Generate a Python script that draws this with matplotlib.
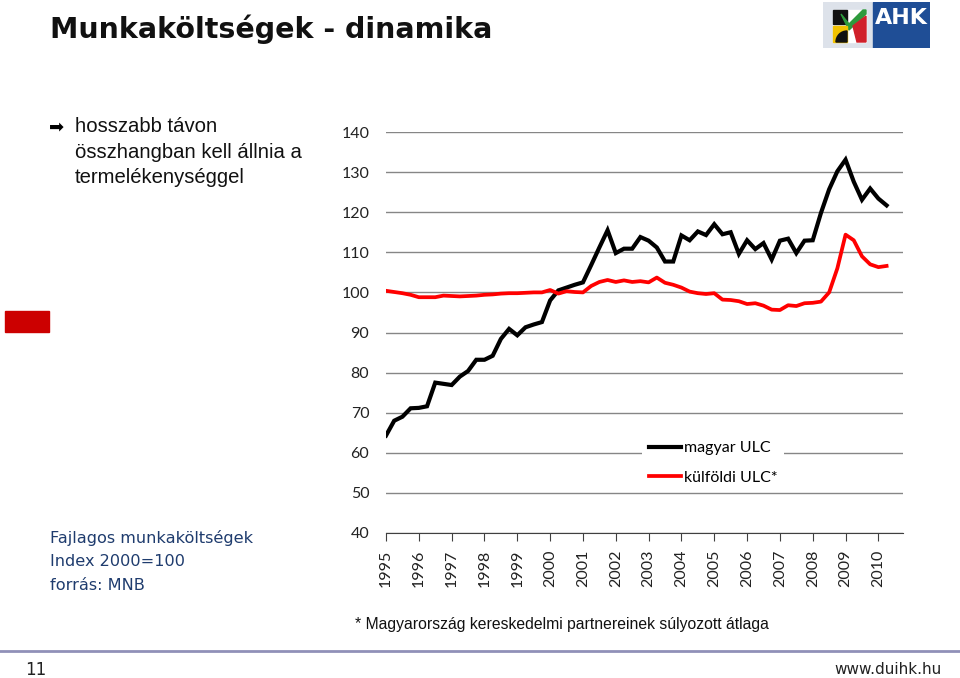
import numpy as np
import matplotlib.pyplot as plt
from matplotlib.patches import Rectangle, Polygon, Wedge

# quarterly data, 1995 Q1 .. 2010 Q2 (index 2000 = 100)
years = [str(y) for y in range(1995, 2011)]
hu_ulc = [64.3, 68.0, 69.0, 71.1, 71.2, 71.6, 77.5, 77.2, 76.9, 79.0,
          80.4, 83.2, 83.2, 84.2, 88.4, 90.9, 89.3, 91.3, 92.0, 92.6,
          98.0, 100.5, 101.2, 101.9, 102.5, 106.8, 111.2, 115.5, 109.8, 110.9,
          110.9, 113.8, 112.9, 111.2, 107.7, 107.7, 114.2, 113.0, 115.2, 114.3,
          117.0, 114.5, 115.0, 109.6, 113.0, 110.8, 112.3, 108.2, 112.9, 113.4,
          109.8, 112.9, 113.0, 119.8, 125.7, 130.2, 133.1, 127.6, 123.1, 125.9,
          123.4, 121.7]
foreign_ulc = [100.4, 100.1, 99.8, 99.4, 98.8, 98.8, 98.8, 99.2, 99.1, 99.0,
               99.1, 99.2, 99.4, 99.5, 99.7, 99.8, 99.8, 99.9, 100.0, 100.0,
               100.6, 99.7, 100.3, 100.1, 100.0, 101.6, 102.6, 103.1, 102.6, 103.0,
               102.6, 102.8, 102.5, 103.7, 102.4, 101.9, 101.2, 100.2, 99.8, 99.6,
               99.8, 98.2, 98.1, 97.8, 97.1, 97.3, 96.7, 95.7, 95.6, 96.8,
               96.6, 97.3, 97.4, 97.7, 100.0, 106.0, 114.4, 113.0, 109.0, 107.0,
               106.3, 106.6]
yticks = [40, 50, 60, 70, 80, 90, 100, 110, 120, 130, 140]

W, H = 960, 678
fig = plt.figure(figsize=(9.6, 6.78), dpi=100)

def px(x, y):
    return x / W, 1 - y / H

# chart
ax = fig.add_axes([386 / W, 1 - 533 / H, 517 / W, 401 / H])
q = np.arange(len(hu_ulc))
ax.plot(q, hu_ulc, color='black', lw=3.0, label='magyar ULC', solid_joinstyle='miter')
ax.plot(q, foreign_ulc, color='#ff0000', lw=2.7, label='külföldi ULC*')
ax.set_xlim(0, 63)
ax.set_ylim(40, 140)
ax.set_yticks(yticks)
ax.set_xticks(np.arange(0, 64, 4))
ax.set_xticklabels(years, rotation=90)
ax.grid(axis='y', color='#868686', lw=1)
ax.set_axisbelow(True)
for s in ['left', 'right', 'top']:
    ax.spines[s].set_visible(False)
ax.spines['bottom'].set_color('#404040')
ax.tick_params(axis='y', length=0, pad=12, labelsize=11.5, labelcolor='#222222')
ax.tick_params(axis='x', length=6, color='#404040', direction='out', pad=6,
               labelsize=11.5, labelcolor='#222222')
for lab in ax.get_xticklabels() + ax.get_yticklabels():
    lab.set_family('Lato')
leg = ax.legend(loc='center', bbox_to_anchor=(0.633, 0.175), frameon=True,
                fancybox=False, handlelength=2.0, handletextpad=0.2,
                labelspacing=0.95, prop={'family': 'Lato', 'size': 11.5})
leg.get_frame().set_edgecolor('none')
leg.get_frame().set_facecolor('white')
leg.get_frame().set_alpha(1)

# slide texts
fig.text(*px(50, 29), 'Munkaköltségek - dinamika', fontsize=20.5, fontweight='bold',
         family='DejaVu Sans', va='center', color='#111111')
fig.text(*px(49, 127), '➡', fontsize=13, family='DejaVu Sans', va='center')
for i, line in enumerate(['hosszabb távon', 'összhangban kell állnia a', 'termelékenységgel']):
    fig.text(*px(75, 127 + 25 * i), line, fontsize=14.6, family='Liberation Sans',
             va='center', color='#111111')
fig.patches.append(Rectangle(px(5, 332), 44 / W, 21 / H, transform=fig.transFigure,
                             color='#cc0000'))
for i, line in enumerate(['Fajlagos munkaköltségek', 'Index 2000=100', 'forrás: MNB']):
    fig.text(*px(50, 538 + 24 * i), line, fontsize=11.6, family='DejaVu Sans',
             va='center', color='#1f3c6e')
fig.text(*px(355, 625), '* Magyarország kereskedelmi partnereinek súlyozott átlaga',
         fontsize=11.3, family='Liberation Sans', va='center', color='#111111')
fig.add_artist(plt.Line2D([0, 1], [1 - 651 / H] * 2, transform=fig.transFigure,
                          color='#9090b8', lw=2))
fig.text(*px(25, 670), '11', fontsize=12, family='DejaVu Sans', va='center',
         color='#222222')
fig.text(*px(942, 670), 'www.duihk.hu', fontsize=11, family='DejaVu Sans',
         va='center', ha='right', color='#222222')

# AHK logo
lg = fig.add_axes([823 / W, 1 - 48 / H, 107 / W, 46 / H])
lg.set_xlim(0, 107)
lg.set_ylim(46, 0)
lg.axis('off')
lg.add_patch(Rectangle((0, 0), 50, 46, color='#dde2ea'))
lg.add_patch(Rectangle((50, 0), 57, 46, color='#1f4e96'))
lg.text(78, 16, 'AHK', color='white', fontsize=16, fontweight='bold',
        ha='center', va='center', family='DejaVu Sans')
lg.add_patch(Rectangle((10, 8), 33, 32, color='white'))
lg.add_patch(Rectangle((10, 8), 14, 14, color='#111111'))
lg.add_patch(Polygon([(18, 12), (26, 22), (40, 8), (43, 8), (43, 12), (26, 28)],
                     color='#2e9a3c'))
lg.add_patch(Polygon([(30, 24), (43, 14), (43, 40), (34, 40)], color='#d0202a'))
lg.add_patch(Rectangle((10, 24), 14, 16, color='#f2c200'))
lg.add_patch(Wedge((24, 40), 11, 180, 270, color='#111111'))

fig.savefig('out.png', dpi=100)
